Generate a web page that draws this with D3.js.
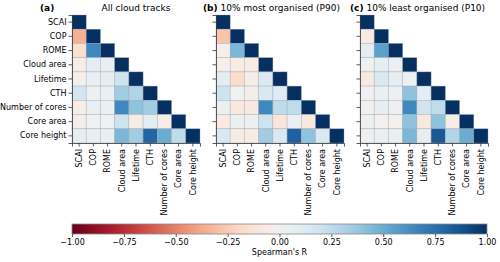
<!DOCTYPE html>
<head>
  <meta charset="utf-8">
  <script src="https://d3js.org/d3.v7.min.js"></script>
  <style>
    body { margin:0; background:#fff; }
    text { font-family: "DejaVu Sans", sans-serif; fill:#000; }
  </style>
</head>
<body>
<script>

/* Data */
/* ==== */

var variables = ["SCAI", "COP", "ROME", "Cloud area", "Lifetime", "CTH",
                 "Number of cores", "Core area", "Core height"];

// lower triangle, row by row (values left of the diagonal)
var corrAll = [
  [],
  [-0.35],
  [-0.15, 0.65],
  [-0.05, 0.10, 0.07],
  [-0.03, 0.05, 0.08, 0.20],
  [0.17, 0.04, 0.05, 0.35, 0.30],
  [-0.05, 0.07, 0.06, 0.65, 0.40, 0.35],
  [-0.04, 0.02, 0.02, 0.20, -0.05, 0.10, -0.05],
  [0.08, 0.07, 0.07, 0.45, 0.35, 0.80, 0.50, 0.25]
];

var corrP90 = [
  [],
  [-0.28],
  [-0.03, 0.45],
  [-0.03, -0.07, -0.07],
  [0.10, -0.17, -0.05, 0.13],
  [0.20, 0.02, -0.04, 0.15, 0.12],
  [0.06, -0.10, -0.10, 0.65, 0.25, 0.25],
  [-0.08, 0.06, 0.03, 0.20, -0.12, 0.06, -0.10],
  [0.15, -0.06, -0.07, 0.35, 0.15, 0.82, 0.40, 0.15]
];

var corrP10 = [
  [],
  [-0.08],
  [0.10, 0.55],
  [0.02, 0.08, 0.05],
  [-0.08, 0.15, 0.08, 0.04],
  [0.02, 0.05, 0.04, 0.40, 0.10],
  [-0.02, 0.08, 0.04, 0.65, 0.18, 0.25],
  [0.03, -0.02, -0.01, 0.40, -0.10, 0.40, -0.05],
  [0.04, 0.06, 0.06, 0.45, 0.08, 0.85, 0.30, 0.50]
];

var panels = [
  {tag: "(a)", title: "All cloud tracks", data: corrAll, x: 72},
  {tag: "(b)", title: " 10% most organised (P90)", data: corrP90, x: 216},
  {tag: "(c)", title: " 10% least organised (P10)", data: corrP10, x: 360}
];

var cbTicks = [-1, -0.75, -0.5, -0.25, 0, 0.25, 0.5, 0.75, 1];


/* Set up */
/* ====== */

var width = 500,
    height = 262,
    size = 128,
    topY = 15;

var color = d3.scaleSequential(function(t) { return d3.interpolateRdBu(t); })
    .domain([-1, 1]);

var svg = d3.select('body')
  .append('svg')
    .attr('width', width)
    .attr('height', height);


/* Matrices */
/* ======== */

panels.forEach(function(p, pi) {

  var band = d3.scaleBand()
      .domain(variables)
      .range([0, size]);

  var g = svg.append('g')
      .attr('transform', 'translate(' + p.x + ',' + topY + ')');

  var cells = [];
  variables.forEach(function(row, i) {
    for (var j = 0; j <= i; j++) {
      var v = (j === i) ? 1 : p.data[i][j];
      cells.push({row: row, col: variables[j], value: v});
    }
  });

  g.selectAll('.cell')
      .data(cells)
      .enter()
    .append('rect')
      .classed('cell', true)
      .attr('x', function(d) { return band(d.col); })
      .attr('y', function(d) { return band(d.row); })
      .attr('width', band.bandwidth())
      .attr('height', band.bandwidth())
      .attr('fill', function(d) { return color(d.value); })
      .attr('stroke', 'rgba(150,160,175,0.6)')
      .attr('stroke-width', 0.6);

  // axes: only left and bottom spines
  var yAxis = d3.axisLeft(band).tickSize(3.5).tickPadding(2);
  if (pi > 0) yAxis.tickFormat('');
  var ya = g.append('g').call(yAxis);
  ya.select('.domain').attr('stroke', '#333').attr('stroke-width', 0.8);
  ya.selectAll('.tick line').attr('stroke', '#333').attr('stroke-width', 0.8);
  ya.selectAll('text').attr('font-size', 8).attr('font-family', 'DejaVu Sans');

  var xa = g.append('g')
      .attr('transform', 'translate(0,' + size + ')')
      .call(d3.axisBottom(band).tickSize(3.5).tickPadding(2));
  xa.select('.domain').attr('stroke', '#333').attr('stroke-width', 0.8);
  xa.selectAll('.tick line').attr('stroke', '#333').attr('stroke-width', 0.8);
  xa.selectAll('text')
      .attr('font-size', 8)
      .attr('font-family', 'DejaVu Sans')
      .attr('text-anchor', 'end')
      .attr('dy', '0.35em')
      .attr('y', 0)
      .attr('transform', 'translate(0,6) rotate(-90)');

  // titles
  if (pi === 0) {
    svg.append('text')
        .attr('x', 40).attr('y', 11)
        .attr('font-size', 9).attr('font-weight', 'bold')
        .text(p.tag);
    svg.append('text')
        .attr('x', p.x + size / 2).attr('y', 11)
        .attr('font-size', 9).attr('text-anchor', 'middle')
        .text(p.title);
  } else {
    var t = svg.append('text')
        .attr('x', pi === 1 ? 203 : 350).attr('y', 11)
        .attr('font-size', 9);
    t.append('tspan').attr('font-weight', 'bold').text(p.tag);
    t.append('tspan').text(p.title);
  }
});


/* Colorbar */
/* ======== */

var cbX = d3.scaleLinear().domain([-1, 1]).range([72, 487]),
    cbY = 224,
    cbH = 10;

var defs = svg.append('defs');
var grad = defs.append('linearGradient').attr('id', 'cbgrad');
d3.range(0, 1.0001, 0.05).forEach(function(t) {
  grad.append('stop')
      .attr('offset', (t * 100) + '%')
      .attr('stop-color', color(t * 2 - 1));
});

svg.append('rect')
    .attr('x', cbX(-1)).attr('y', cbY)
    .attr('width', cbX(1) - cbX(-1)).attr('height', cbH)
    .attr('fill', 'url(#cbgrad)')
    .attr('stroke', '#888').attr('stroke-width', 0.8);

var cba = svg.append('g')
    .attr('transform', 'translate(0,' + (cbY + cbH) + ')')
    .call(d3.axisBottom(cbX).tickValues(cbTicks).tickSize(3).tickPadding(2)
      .tickFormat(d3.format('.2f')));
cba.select('.domain').remove();
cba.selectAll('.tick line').attr('stroke', '#333').attr('stroke-width', 0.8);
cba.selectAll('text').attr('font-size', 8).attr('font-family', 'DejaVu Sans');

svg.append('text')
    .attr('x', cbX(0)).attr('y', 255)
    .attr('font-size', 8).attr('text-anchor', 'middle')
    .text("Spearman's R");

</script>
</body>
